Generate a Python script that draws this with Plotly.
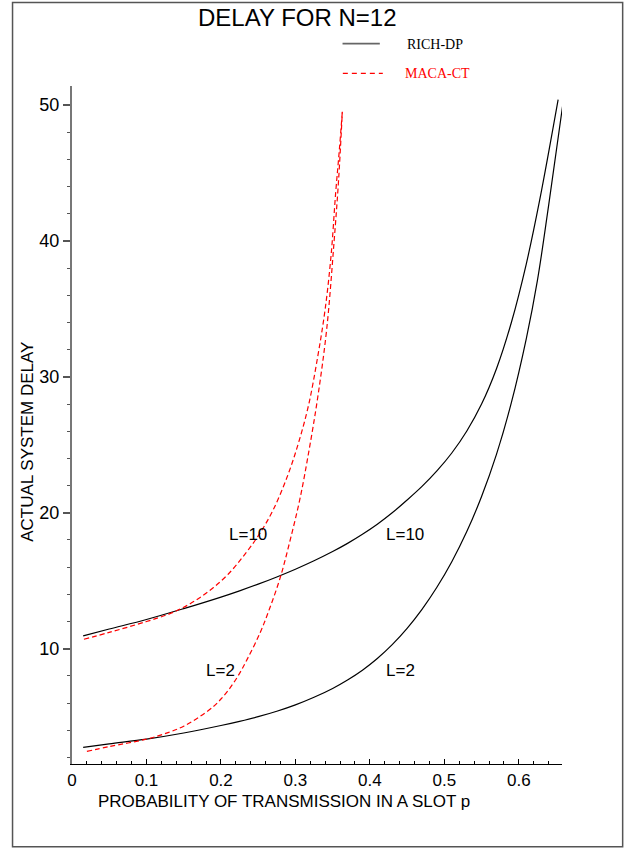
import plotly.graph_objects as go

# ---- data ----
p_rich_l10 = [0.015, 0.05, 0.1, 0.15, 0.2, 0.225, 0.25, 0.275, 0.3, 0.325, 0.35, 0.37, 0.39, 0.41, 0.43, 0.45, 0.47, 0.49, 0.51, 0.53, 0.55, 0.57, 0.59, 0.61, 0.628, 0.6528]
d_rich_l10 = [10.95, 11.45, 12.15, 12.95, 13.8, 14.26, 14.75, 15.28, 15.85, 16.47, 17.15, 17.75, 18.42, 19.16, 20.0, 20.94, 21.94, 23.08, 24.4, 26.0, 28.0, 30.6, 34.0, 38.3, 43.0, 50.4]

p_rich_l2 = [0.015, 0.05, 0.1, 0.15, 0.2, 0.225, 0.25, 0.275, 0.3, 0.325, 0.35, 0.37, 0.39, 0.41, 0.43, 0.45, 0.47, 0.49, 0.51, 0.53, 0.55, 0.57, 0.59, 0.61, 0.625, 0.64, 0.6595]
d_rich_l2 = [2.74, 3.0, 3.35, 3.8, 4.35, 4.66, 5.0, 5.4, 5.87, 6.43, 7.08, 7.7, 8.42, 9.28, 10.3, 11.5, 12.9, 14.52, 16.4, 18.6, 21.2, 24.3, 28.1, 32.8, 37.1, 42.6, 50.2]

p_maca_l10 = [0.016, 0.05, 0.1, 0.13, 0.15, 0.17, 0.19, 0.21, 0.23, 0.25, 0.27, 0.29, 0.305, 0.318, 0.33, 0.34, 0.348, 0.354, 0.359, 0.363]
d_maca_l10 = [10.7, 11.2, 12.0, 12.55, 13.05, 13.7, 14.5, 15.5, 16.8, 18.3, 20.2, 22.8, 25.3, 28.0, 31.5, 35.0, 39.0, 43.5, 46.7, 49.5]

p_maca_l2 = [0.02, 0.05, 0.1, 0.13, 0.15, 0.17, 0.19, 0.2, 0.21, 0.223, 0.235, 0.252, 0.265, 0.28, 0.293, 0.306, 0.318, 0.33, 0.342, 0.352, 0.358, 0.363]
d_maca_l2 = [2.45, 2.8, 3.35, 3.85, 4.3, 4.95, 5.75, 6.3, 6.95, 8.0, 9.2, 11.1, 12.9, 15.3, 18.0, 21.0, 24.5, 28.5, 33.5, 40.0, 44.5, 49.5]

x_ticks = [0, 0.1, 0.2, 0.3, 0.4, 0.5, 0.6]
x_tick_text = ["0", "0.1", "0.2", "0.3", "0.4", "0.5", "0.6"]
y_ticks = [10, 20, 30, 40, 50]

curve_labels = ["L=10", "L=10", "L=2", "L=2"]
curve_label_p = [0.237, 0.4477, 0.2, 0.441]
curve_label_d = [18.43, 18.43, 8.4, 8.4]

title_text = "DELAY FOR N=12"
x_title = "PROBABILITY OF TRANSMISSION IN A SLOT p"
y_title = "ACTUAL SYSTEM DELAY"
series_names = ["RICH-DP", "MACA-CT"]

# ---- layout geometry (pixels) ----
W, H = 625, 848
L_, R_, T_, B_ = 72, 562.3, 86, 764.3
pw, ph = R_ - L_, B_ - T_


def px(x):
    return (x - L_) / pw


def py(y):
    return (B_ - y) / ph


SANS = "Liberation Sans, Arial, sans-serif"
SERIF = "Liberation Serif, Times New Roman, serif"

fig = go.Figure()

black = dict(color="black", width=1.2, shape="spline", smoothing=1.0)
red = dict(color="#ff0000", width=1.2, dash="5px,3px", shape="spline", smoothing=1.0)

fig.add_trace(go.Scatter(x=p_rich_l10, y=d_rich_l10, mode="lines", line=black, showlegend=False))
fig.add_trace(go.Scatter(x=p_rich_l2, y=d_rich_l2, mode="lines", line=black, showlegend=False))
fig.add_trace(go.Scatter(x=p_maca_l10, y=d_maca_l10, mode="lines", line=red, showlegend=False))
fig.add_trace(go.Scatter(x=p_maca_l2, y=d_maca_l2, mode="lines", line=red, showlegend=False))

annotations = []
for t, xv, yv in zip(curve_labels, curve_label_p, curve_label_d):
    annotations.append(dict(x=xv, y=yv, xref="x", yref="y", text=t, showarrow=False,
                            xanchor="center", yanchor="middle",
                            font=dict(family=SANS, size=17, color="black")))


def ann(x, y, text, font, **kw):
    d = dict(x=px(x), y=py(y), xref="paper", yref="paper", text=text, showarrow=False,
             xanchor="center", yanchor="middle", font=font)
    d.update(kw)
    annotations.append(d)


ann(297.5, 17.7, title_text, dict(family=SANS, size=24, color="black"))
ann(284, 801.5, x_title, dict(family=SANS, size=17, color="black"))
ann(28, 442, y_title, dict(family=SANS, size=17, color="black"), textangle=-90)
ann(405, 44.7, series_names[0], dict(family=SERIF, size=14, color="black"), xanchor="left")
ann(403.3, 73.3, series_names[1], dict(family=SERIF, size=14, color="#ff0000"), xanchor="left")

shapes = [
    dict(type="rect", xref="paper", yref="paper", x0=px(12.5), x1=px(623), y0=py(847), y1=py(2.5),
         line=dict(color="#555555", width=1.5), fillcolor="rgba(0,0,0,0)", layer="below"),
    dict(type="line", xref="paper", yref="paper", x0=px(342.7), x1=px(380), y0=py(43.7), y1=py(43.7),
         line=dict(color="#666666", width=1.8)),
    dict(type="line", xref="paper", yref="paper", x0=px(343), x1=px(383), y0=py(73.3), y1=py(73.3),
         line=dict(color="#ff0000", width=1.2, dash="5px,4px")),
]

fig.update_layout(
    width=W, height=H,
    margin=dict(l=L_, r=W - R_, t=T_, b=H - B_, pad=0),
    paper_bgcolor="white", plot_bgcolor="white",
    showlegend=False,
    annotations=annotations,
    shapes=shapes,
    font=dict(family=SANS, size=17, color="black"),
)

fig.update_xaxes(
    range=[0, 0.658], showgrid=False, zeroline=False,
    showline=True, linecolor="black", linewidth=1.2,
    tickmode="array", tickvals=x_ticks, ticktext=x_tick_text,
    ticks="inside", ticklen=5, tickcolor="black", tickwidth=1,
    tickfont=dict(family=SANS, size=17, color="black"),
    minor=dict(dtick=0.02, tick0=0, ticks="inside", ticklen=3, tickcolor="black", tickwidth=1),
)
fig.update_yaxes(
    range=[1.52, 51.4], showgrid=False, zeroline=False,
    showline=True, linecolor="#777777", linewidth=2,
    tickmode="array", tickvals=y_ticks,
    ticks="outside", ticklen=7, tickcolor="#555555", tickwidth=1.5,
    tickfont=dict(family=SANS, size=18, color="black"),
    minor=dict(dtick=2, tick0=0, ticks="outside", ticklen=3.5, tickcolor="#555555", tickwidth=1),
)

fig.write_html("out.html")
